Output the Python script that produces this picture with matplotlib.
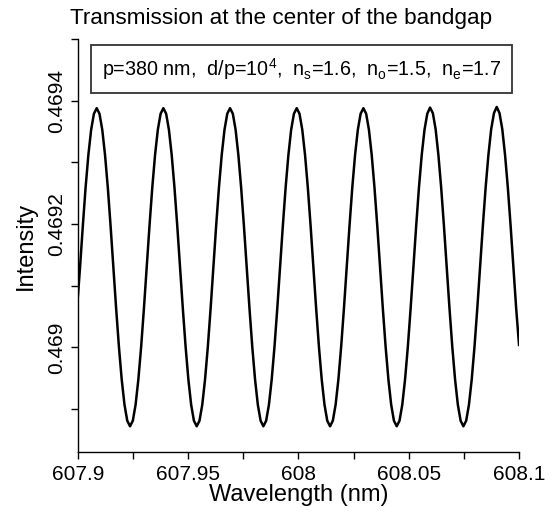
import matplotlib
matplotlib.use('Agg')
import matplotlib.pyplot as plt
from matplotlib.ticker import MultipleLocator, FixedLocator, FixedFormatter

plt.rcParams['font.family'] = ['Liberation Sans', 'DejaVu Sans']
plt.rcParams['mathtext.fontset'] = 'custom'
plt.rcParams['mathtext.rm'] = 'Liberation Sans'
plt.rcParams['mathtext.it'] = 'Liberation Sans'

# wavelength samples (nm), one row per fringe period
wavelength = [
    607.90000, 607.90106, 607.90232, 607.90357, 607.90483, 607.90609, 607.90735,
    607.90861, 607.90987, 607.91113, 607.91239, 607.91365, 607.91490, 607.91616, 607.91742,
    607.91868, 607.91994, 607.92120, 607.92246, 607.92372, 607.92498, 607.92623, 607.92749,
    607.92875, 607.93001, 607.93127, 607.93253, 607.93379, 607.93505, 607.93631, 607.93757,
    607.93882, 607.94008, 607.94134, 607.94260, 607.94386, 607.94512, 607.94638, 607.94764,
    607.94890, 607.95015, 607.95141, 607.95267, 607.95393, 607.95519, 607.95645, 607.95771,
    607.95897, 607.96023, 607.96148, 607.96274, 607.96400, 607.96526, 607.96652, 607.96778,
    607.96904, 607.97030, 607.97156, 607.97281, 607.97407, 607.97533, 607.97659, 607.97785,
    607.97911, 607.98037, 607.98163, 607.98289, 607.98415, 607.98540, 607.98666, 607.98792,
    607.98918, 607.99044, 607.99170, 607.99296, 607.99422, 607.99548, 607.99673, 607.99799,
    607.99925, 608.00051, 608.00177, 608.00303, 608.00429, 608.00555, 608.00681, 608.00806,
    608.00932, 608.01058, 608.01184, 608.01310, 608.01436, 608.01562, 608.01688, 608.01814,
    608.01939, 608.02065, 608.02191, 608.02317, 608.02443, 608.02569, 608.02695, 608.02821,
    608.02947, 608.03072, 608.03198, 608.03324, 608.03450, 608.03576, 608.03702, 608.03828,
    608.03954, 608.04080, 608.04206, 608.04331, 608.04457, 608.04583, 608.04709, 608.04835,
    608.04961, 608.05087, 608.05213, 608.05339, 608.05464, 608.05590, 608.05716, 608.05842,
    608.05968, 608.06094, 608.06220, 608.06346, 608.06472, 608.06597, 608.06723, 608.06849,
    608.06975, 608.07101, 608.07227, 608.07353, 608.07479, 608.07605, 608.07730, 608.07856,
    608.07982, 608.08108, 608.08234, 608.08360, 608.08486, 608.08612, 608.08738, 608.08864,
    608.08989, 608.09115, 608.09241, 608.09367, 608.09493, 608.09619, 608.09745, 608.09871,
    608.10000,
]

intensity = [
    0.469078, 0.469130, 0.469197, 0.469259, 0.469312, 0.469353, 0.469379,
    0.469388, 0.469379, 0.469353, 0.469312, 0.469259, 0.469197, 0.469130, 0.469063,
    0.469001, 0.468948, 0.468907, 0.468881, 0.468872, 0.468881, 0.468907, 0.468948,
    0.469001, 0.469063, 0.469130, 0.469197, 0.469259, 0.469312, 0.469353, 0.469379,
    0.469388, 0.469379, 0.469353, 0.469312, 0.469259, 0.469197, 0.469130, 0.469063,
    0.469001, 0.468948, 0.468907, 0.468881, 0.468872, 0.468881, 0.468907, 0.468948,
    0.469001, 0.469063, 0.469130, 0.469197, 0.469259, 0.469312, 0.469353, 0.469379,
    0.469388, 0.469379, 0.469353, 0.469312, 0.469259, 0.469197, 0.469130, 0.469063,
    0.469001, 0.468948, 0.468907, 0.468881, 0.468872, 0.468881, 0.468907, 0.468948,
    0.469001, 0.469063, 0.469130, 0.469197, 0.469259, 0.469312, 0.469353, 0.469379,
    0.469388, 0.469379, 0.469353, 0.469312, 0.469259, 0.469197, 0.469130, 0.469063,
    0.469001, 0.468948, 0.468907, 0.468881, 0.468872, 0.468881, 0.468907, 0.468948,
    0.469001, 0.469063, 0.469130, 0.469197, 0.469259, 0.469312, 0.469353, 0.469379,
    0.469388, 0.469379, 0.469353, 0.469312, 0.469259, 0.469197, 0.469130, 0.469063,
    0.469001, 0.468948, 0.468907, 0.468881, 0.468872, 0.468881, 0.468907, 0.468948,
    0.469001, 0.469063, 0.469130, 0.469197, 0.469259, 0.469312, 0.469353, 0.469379,
    0.469389, 0.469380, 0.469354, 0.469312, 0.469259, 0.469197, 0.469130, 0.469063,
    0.469001, 0.468948, 0.468907, 0.468881, 0.468872, 0.468881, 0.468907, 0.468948,
    0.469001, 0.469063, 0.469130, 0.469197, 0.469259, 0.469312, 0.469354, 0.469380,
    0.469390, 0.469380, 0.469354, 0.469312, 0.469259, 0.469197, 0.469130, 0.469063,
    0.469004,
]

x_ticks = [607.9, 607.95, 608.0, 608.05, 608.1]
x_labels = ['607.9', '607.95', '608', '608.05', '608.1']
y_ticks = [0.469, 0.4692, 0.4694]
y_labels = ['0.469', '0.4692', '0.4694']

fig = plt.figure(figsize=(5.59, 5.15), dpi=100)
ax = fig.add_axes([0.139, 0.122, 0.7895, 0.802])

ax.plot(wavelength, intensity, color='black', linewidth=1.8)
ax.set_xlim(607.9, 608.1)
ax.set_ylim(0.46883, 0.4695)

for side in ['top', 'right']:
    ax.spines[side].set_visible(False)
for side in ['left', 'bottom']:
    ax.spines[side].set_linewidth(1.0)

ax.xaxis.set_major_locator(FixedLocator(x_ticks))
ax.xaxis.set_major_formatter(FixedFormatter(x_labels))
ax.xaxis.set_minor_locator(MultipleLocator(0.025))
ax.yaxis.set_major_locator(FixedLocator(y_ticks))
ax.yaxis.set_major_formatter(FixedFormatter(y_labels))
ax.yaxis.set_minor_locator(MultipleLocator(0.0001))
ax.tick_params(which='both', direction='out', length=5, width=1.0, labelsize=15)
ax.tick_params(axis='x', pad=4)
ax.tick_params(axis='y', pad=3)
for lab in ax.get_yticklabels():
    lab.set_rotation(90)
    lab.set_va('center')

ax.set_xlabel('Wavelength (nm)', fontsize=17, labelpad=0)
ax.set_ylabel('Intensity', fontsize=17, labelpad=8)

fig.text(0.503, 0.965, 'Transmission at the center of the bandgap',
         ha='center', va='center', fontsize=16.2)

ax.text(0.507, 0.927,
        r'p=380 nm,  d/p=10$^\mathregular{4}$,  n$_\mathregular{s}$=1.6,  '
        r'n$_\mathregular{o}$=1.5,  n$_\mathregular{e}$=1.7',
        transform=ax.transAxes, ha='center', va='center', fontsize=14.2,
        bbox=dict(boxstyle='square,pad=0.55', facecolor='white',
                  edgecolor='#333333', linewidth=1.3))

fig.savefig('out.png', dpi=100)
